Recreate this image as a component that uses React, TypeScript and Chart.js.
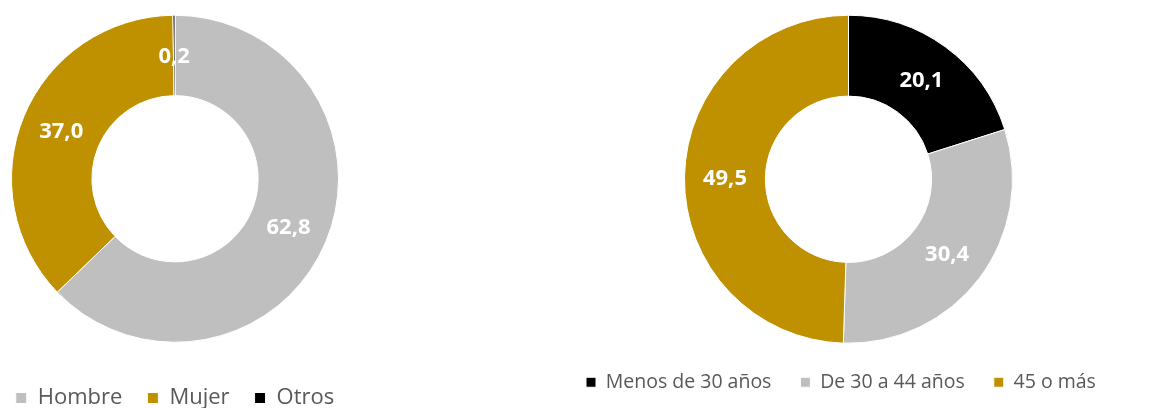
import React, { useEffect, useRef } from "react";
import { Chart, registerables } from "chart.js";

Chart.register(...registerables);

const genderLabels = ["Hombre", "Mujer", "Otros"];
const genderValues = [62.8, 37.0, 0.2];
const genderColors = ["#BFBFBF", "#BF9000", "#000000"];

const ageLabels = ["Menos de 30 años", "De 30 a 44 años", "45 o más"];
const ageValues = [20.1, 30.4, 49.5];
const ageColors = ["#000000", "#BFBFBF", "#BF9000"];

const fmt = (v: number) => v.toFixed(1).replace(".", ",");

const valueLabelPlugin = {
  id: "valueLabels",
  afterDatasetsDraw(chart: any) {
    const ctx = chart.ctx;
    const meta = chart.getDatasetMeta(0);
    const data = chart.data.datasets[0].data as number[];
    ctx.save();
    ctx.fillStyle = "#FFFFFF";
    ctx.font = "bold 22px 'Open Sans'";
    ctx.textAlign = "center";
    ctx.textBaseline = "middle";
    meta.data.forEach((arc: any, i: number) => {
      const p = arc.tooltipPosition(false);
      ctx.fillText(fmt(data[i]), p.x, p.y + 1);
    });
    ctx.restore();
  },
};

type DonutProps = {
  labels: string[];
  values: number[];
  colors: string[];
  left: number;
  top: number;
  width: number;
  height: number;
  outer: number;
  inner: number;
  fontSize: number;
  gap: number;
  box: number;
  align: "start" | "center";
  titleSpace: number;
};

function Donut(p: DonutProps) {
  const ref = useRef<HTMLCanvasElement | null>(null);
  useEffect(() => {
    if (!ref.current) return;
    const chart = new Chart(ref.current, {
      type: "doughnut",
      data: {
        labels: p.labels,
        datasets: [
          {
            data: p.values,
            backgroundColor: p.colors,
            borderColor: "#FFFFFF",
            borderWidth: 1,
            radius: p.outer,
            cutout: p.inner,
          } as any,
        ],
      },
      options: {
        animation: false,
        responsive: false,
        events: [],
        layout: { padding: 0 },
        plugins: {
          tooltip: { enabled: false },
          legend: {
            display: true,
            position: "bottom",
            align: p.align,
            title: {
              display: p.titleSpace > 0,
              text: "",
              font: { size: 10, lineHeight: 1 },
              padding: Math.max(0, (p.titleSpace - 10) / 2),
            },
            labels: {
              color: "#595959",
              boxWidth: p.box,
              boxHeight: p.box,
              padding: p.gap,
              font: { family: "'Open Sans'", size: p.fontSize },
            },
          },
        },
      },
      plugins: [valueLabelPlugin],
    });
    return () => chart.destroy();
  }, []);
  return (
    <canvas
      ref={ref}
      width={p.width}
      height={p.height}
      style={{
        position: "absolute",
        left: p.left,
        top: p.top,
        width: p.width,
        height: p.height,
      }}
    />
  );
}

export default function App() {
  return (
    <div
      style={{
        position: "fixed",
        left: 0,
        top: 0,
        width: 1157,
        height: 408,
        overflow: "hidden",
        background: "#FFFFFF",
      }}
    >
      <Donut
        labels={genderLabels}
        values={genderValues}
        colors={genderColors}
        left={-25}
        top={15}
        width={400}
        height={404}
        outer={163.5}
        inner={83}
        fontSize={22}
        gap={25}
        box={11}
        align="center"
        titleSpace={19.5}
      />
      <Donut
        labels={ageLabels}
        values={ageValues}
        colors={ageColors}
        left={557}
        top={15}
        width={583}
        height={387}
        outer={164}
        inner={83}
        fontSize={19.5}
        gap={29}
        box={10}
        align="start"
        titleSpace={0}
      />
    </div>
  );
}
